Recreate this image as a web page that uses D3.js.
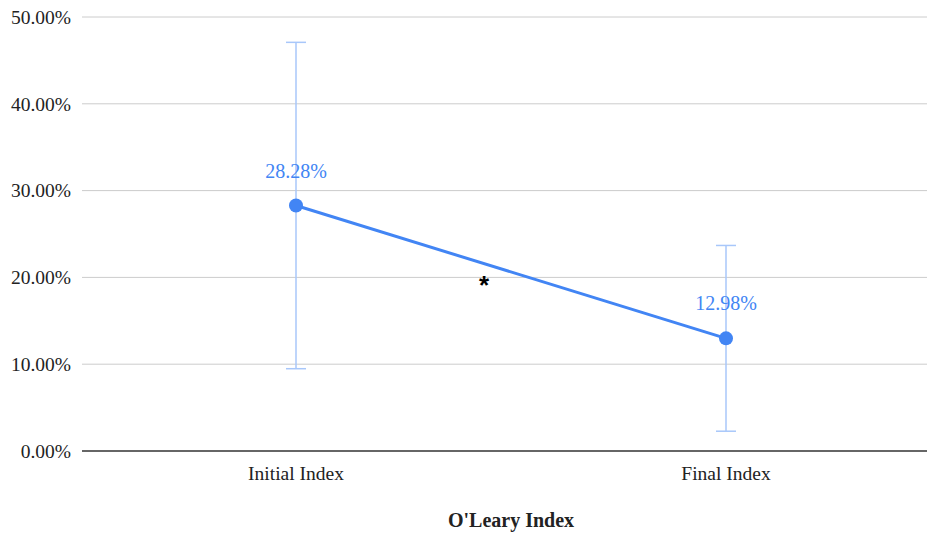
<!DOCTYPE html>
<html>
<head>
<meta charset="utf-8">
<script src="https://cdn.jsdelivr.net/npm/d3@7"></script>
<style>
  body { margin: 0; background: #fff; }
  svg text { font-family: 'Liberation Serif', 'Times New Roman', Times, serif !important; }
  svg text.star { font-family: 'Liberation Sans', Arial, sans-serif !important; }
</style>
</head>
<body>
<svg width="927" height="533"></svg>
<script>
const categories = ["Initial Index", "Final Index"];
const means = [0.2828, 0.1298];
const errors = [0.188, 0.107];
const yTicks = [0, 0.1, 0.2, 0.3, 0.4, 0.5];

const svg = d3.select("svg");
const width = +svg.attr("width");

const x = d3.scaleBand().domain(categories).range([81, 941]);
const y = d3.scaleLinear().domain([0, 0.5]).range([451, 17]);
const cx = d => x(d) + x.bandwidth() / 2;

const data = categories.map((c, i) => ({ c, m: means[i], e: errors[i] }));

// gridlines
svg.append("g")
  .selectAll("line")
  .data(yTicks.filter(t => t > 0))
  .enter().append("line")
    .attr("x1", 82).attr("x2", width)
    .attr("y1", y).attr("y2", y)
    .attr("stroke", "#cccccc")
    .attr("stroke-width", 1);

// y axis labels
const yAxis = d3.axisLeft(y).tickValues(yTicks).tickFormat(d3.format(".2%")).tickSize(0).tickPadding(11);
svg.append("g")
  .attr("transform", "translate(82,0)")
  .call(yAxis)
  .attr("font-size", 19.5)
  .call(g => g.select(".domain").remove())
  .selectAll("text")
    .attr("fill", "#222");

// baseline
svg.append("line")
  .attr("x1", 82).attr("x2", width)
  .attr("y1", y(0)).attr("y2", y(0))
  .attr("stroke", "#333").attr("stroke-width", 1.5);

// x labels
const xAxis = d3.axisBottom(x).tickSize(0).tickPadding(15);
svg.append("g")
  .attr("transform", `translate(0,${y(0)})`)
  .call(xAxis)
  .attr("font-size", 19.5)
  .call(g => g.select(".domain").remove())
  .selectAll("text")
    .attr("fill", "#222");

// error bars
const eb = svg.append("g").attr("stroke", "#a8c7fa").attr("stroke-width", 1.5);
data.forEach(d => {
  eb.append("line").attr("x1", cx(d.c)).attr("x2", cx(d.c))
    .attr("y1", y(d.m + d.e)).attr("y2", y(d.m - d.e));
  eb.append("line").attr("x1", cx(d.c) - 10).attr("x2", cx(d.c) + 10)
    .attr("y1", y(d.m + d.e)).attr("y2", y(d.m + d.e));
  eb.append("line").attr("x1", cx(d.c) - 10).attr("x2", cx(d.c) + 10)
    .attr("y1", y(d.m - d.e)).attr("y2", y(d.m - d.e));
});

// line
const line = d3.line().x(d => cx(d.c)).y(d => y(d.m));
svg.append("path")
  .datum(data)
  .attr("d", line)
  .attr("fill", "none")
  .attr("stroke", "#4285f4")
  .attr("stroke-width", 3);

svg.selectAll("circle.pt")
  .data(data)
  .enter().append("circle")
    .attr("class", "pt")
    .attr("cx", d => cx(d.c))
    .attr("cy", d => y(d.m))
    .attr("r", 7)
    .attr("fill", "#4285f4");

// value labels
svg.selectAll("text.val")
  .data(data)
  .enter().append("text")
    .attr("class", "val")
    .attr("x", d => cx(d.c))
    .attr("y", d => y(d.m) - 28)
    .attr("text-anchor", "middle")
    .attr("font-size", 20)
    .attr("fill", "#4285f4")
    .text(d => d3.format(".2%")(d.m));

// significance mark
svg.append("text")
  .attr("class", "star")
  .attr("x", (cx(categories[0]) + cx(categories[1])) / 2 - 27)
  .attr("y", 294)
  .attr("text-anchor", "middle")
  .attr("font-size", 26)
  .attr("font-weight", "bold")
  .text("*");

// axis title
svg.append("text")
  .attr("x", 511)
  .attr("y", 527)
  .attr("text-anchor", "middle")
  .attr("font-size", 20)
  .attr("font-weight", "bold")
  .attr("fill", "#222")
  .text("O'Leary Index");
</script>
</body>
</html>
